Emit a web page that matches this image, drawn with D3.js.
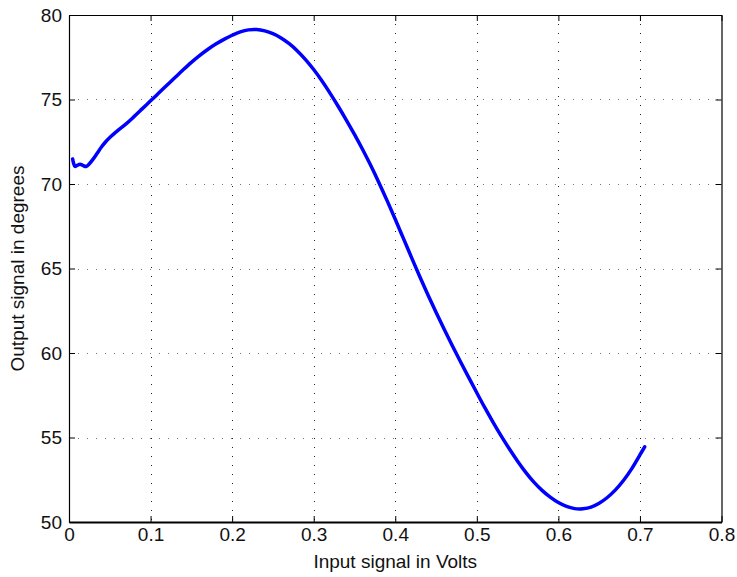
<!DOCTYPE html>
<html>
<head>
<meta charset="utf-8">
<script src="https://cdn.jsdelivr.net/npm/d3@7"></script>
<style>
  body { margin: 0; background: #fff; }
  text { font-family: "Liberation Sans", Arial, Helvetica, sans-serif; }
</style>
</head>
<body>
<svg id="chart" width="737" height="577"></svg>
<script>
const xValues = [0.0045,0.0055,0.0074,0.010,0.0135,0.017,0.0209,0.025,0.03,0.035,0.04,0.045,0.05,0.06,0.07,0.08,0.09,0.10,0.11,0.12,0.13,0.14,0.15,0.16,0.17,0.18,0.19,0.20,0.21,0.22,0.23,0.24,0.25,0.26,0.27,0.28,0.29,0.30,0.31,0.32,0.33,0.34,0.35,0.36,0.37,0.38,0.39,0.40,0.41,0.42,0.43,0.44,0.45,0.46,0.47,0.48,0.49,0.50,0.51,0.52,0.53,0.54,0.55,0.56,0.57,0.58,0.59,0.60,0.61,0.62,0.626,0.63,0.64,0.65,0.66,0.67,0.68,0.69,0.70,0.7058];
const yValues = [71.48,71.25,71.04,71.10,71.17,71.10,71.03,71.2,71.5,71.85,72.2,72.5,72.75,73.17,73.56,74.0,74.46,74.92,75.38,75.84,76.3,76.76,77.2,77.6,77.96,78.28,78.56,78.8,79.0,79.12,79.14,79.06,78.895,78.64,78.30,77.875,77.365,76.775,76.11,75.38,74.60,73.785,72.935,72.04,71.09,70.08,69.015,67.91,66.78,65.645,64.53,63.45,62.41,61.405,60.43,59.485,58.56,57.645,56.75,55.895,55.08,54.32,53.6,52.94,52.36,51.87,51.47,51.15,50.92,50.79,50.77,50.78,50.88,51.11,51.45,51.9,52.47,53.16,53.97,54.45];
const xTicks = [0,0.1,0.2,0.3,0.4,0.5,0.6,0.7,0.8];
const yTicks = [50,55,60,65,70,75,80];
const xLabel = "Input signal in Volts";
const yLabel = "Output signal in degrees";

const svg = d3.select("#chart");
const L = 69, R = 721.5, T = 15, B = 522;
const x = d3.scaleLinear().domain([0, 0.8]).range([L, R]);
const y = d3.scaleLinear().domain([50, 80]).range([B, T]);

// grid
const grid = svg.append("g");
grid.selectAll(".gx").data(xTicks.slice(1, -1)).enter().append("line")
  .attr("x1", d => Math.round(x(d)) + 0.5).attr("x2", d => Math.round(x(d)) + 0.5)
  .attr("y1", T).attr("y2", B)
  .attr("stroke", "#222").attr("stroke-width", 1).attr("stroke-dasharray", "1,8");
grid.selectAll(".gy").data(yTicks.slice(1, -1)).enter().append("line")
  .attr("y1", d => Math.round(y(d)) + 0.5).attr("y2", d => Math.round(y(d)) + 0.5)
  .attr("x1", L).attr("x2", R)
  .attr("stroke", "#777").attr("stroke-width", 1).attr("stroke-dasharray", "1,8");

// axes (ticks inward)
const fmtX = d => d === 0 ? "0" : d3.format(".1f")(d);
const axB = svg.append("g").attr("transform", `translate(0,${B})`)
  .call(d3.axisBottom(x).tickValues(xTicks).tickFormat(fmtX).tickSizeInner(-6).tickSizeOuter(0).tickPadding(6));
const axT = svg.append("g").attr("transform", `translate(0,${T})`)
  .call(d3.axisTop(x).tickValues(xTicks).tickFormat("").tickSizeInner(-6).tickSizeOuter(0));
const axL = svg.append("g").attr("transform", `translate(${L},0)`)
  .call(d3.axisLeft(y).tickValues(yTicks).tickSizeInner(-6).tickSizeOuter(0).tickPadding(7));
const axR = svg.append("g").attr("transform", `translate(${R},0)`)
  .call(d3.axisRight(y).tickValues(yTicks).tickFormat("").tickSizeInner(-6).tickSizeOuter(0));
[axB, axT, axL, axR].forEach(a => {
  a.selectAll("path").attr("stroke", "#000").attr("stroke-width", 1.2);
  a.selectAll("line").attr("stroke", "#000");
  a.selectAll("text").attr("fill", "#111").style("font-size", "19px")
    .style("font-family", "'Liberation Sans', Arial, sans-serif");
});
axB.select("path").attr("stroke-width", 2);

// line
const line = d3.line().x((d, i) => x(xValues[i])).y((d, i) => y(yValues[i])).curve(d3.curveCatmullRom.alpha(0.5));
svg.append("path").datum(yValues).attr("d", line)
  .attr("fill", "none").attr("stroke", "#0000ff").attr("stroke-width", 3.5)
  .attr("stroke-linejoin", "round").attr("stroke-linecap", "round");

// labels
svg.append("text").attr("x", (L + R) / 2).attr("y", 568).attr("text-anchor", "middle")
  .style("font-size", "19px").attr("fill", "#111").text(xLabel);
svg.append("text").attr("transform", `translate(24,${(T + B) / 2}) rotate(-90)`)
  .attr("text-anchor", "middle").style("font-size", "19px").attr("fill", "#111").text(yLabel);
</script>
</body>
</html>
